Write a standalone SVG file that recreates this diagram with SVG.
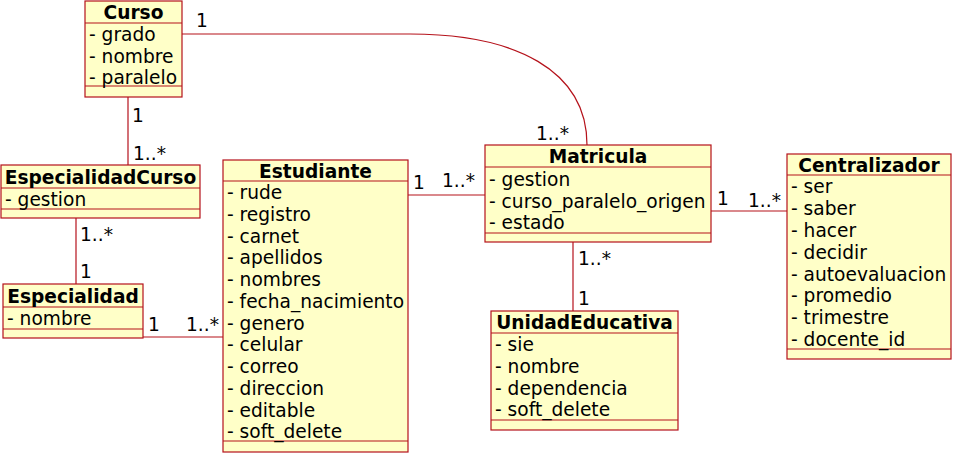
<svg xmlns="http://www.w3.org/2000/svg" width="954" height="453" viewBox="0 0 954 453">
<style>
.box{fill:#ffffc8;stroke:#b5121b;stroke-width:1.2}
.sep{stroke:#b5121b;stroke-width:1.2}
.con{fill:none;stroke:#b5121b;stroke-width:1.2}
text{font-family:"DejaVu Sans",sans-serif;font-size:18.6px;fill:#000}
.t{font-weight:bold;text-anchor:middle}
</style>
<rect width="954" height="453" fill="#fff"/>
<g id="connectors">
<path class="con" d="M182,34 L410,34 C515,34 587,70 587,145"/>
<line class="con" x1="128" y1="97" x2="128" y2="165"/>
<line class="con" x1="76" y1="218" x2="76" y2="284"/>
<line class="con" x1="143" y1="337" x2="223" y2="337"/>
<line class="con" x1="408" y1="195" x2="485" y2="195"/>
<line class="con" x1="573" y1="242" x2="573" y2="311"/>
<line class="con" x1="711" y1="211" x2="787" y2="211"/>
<text x="196" y="27">1</text>
<text x="536" y="140">1..*</text>
<text x="132" y="122">1</text>
<text x="133" y="160">1..*</text>
<text x="80" y="241">1..*</text>
<text x="80" y="278">1</text>
<text x="148" y="331">1</text>
<text x="186" y="331">1..*</text>
<text x="413" y="189">1</text>
<text x="442" y="187">1..*</text>
<text x="578" y="265">1..*</text>
<text x="578" y="305">1</text>
<text x="717" y="205">1</text>
<text x="748" y="207">1..*</text>
</g>
<g id="Curso">
<rect class="box" x="85" y="1" width="97" height="96"/>
<line class="sep" x1="85" y1="23" x2="182" y2="23"/>
<line class="sep" x1="85" y1="86" x2="182" y2="86"/>
<text class="t" x="133.5" y="19">Curso</text>
<text x="89" y="41">- grado</text>
<text x="89" y="63">- nombre</text>
<text x="89" y="84">- paralelo</text>
</g>
<g id="EspecialidadCurso">
<rect class="box" x="1" y="165" width="199" height="53"/>
<line class="sep" x1="1" y1="188" x2="200" y2="188"/>
<line class="sep" x1="1" y1="209" x2="200" y2="209"/>
<text class="t" x="100.5" y="184">EspecialidadCurso</text>
<text x="5" y="206">- gestion</text>
</g>
<g id="Especialidad">
<rect class="box" x="3" y="284" width="140" height="54"/>
<line class="sep" x1="3" y1="307" x2="143" y2="307"/>
<line class="sep" x1="3" y1="329" x2="143" y2="329"/>
<text class="t" x="73" y="303">Especialidad</text>
<text x="7" y="325">- nombre</text>
</g>
<g id="Estudiante">
<rect class="box" x="223" y="160" width="185" height="292"/>
<line class="sep" x1="223" y1="181" x2="408" y2="181"/>
<line class="sep" x1="223" y1="441" x2="408" y2="441"/>
<text class="t" x="315.5" y="178">Estudiante</text>
<text x="227" y="199">- rude</text>
<text x="227" y="221">- registro</text>
<text x="227" y="243">- carnet</text>
<text x="227" y="264">- apellidos</text>
<text x="227" y="286">- nombres</text>
<text x="227" y="308">- fecha_nacimiento</text>
<text x="227" y="330">- genero</text>
<text x="227" y="351">- celular</text>
<text x="227" y="373">- correo</text>
<text x="227" y="395">- direccion</text>
<text x="227" y="417">- editable</text>
<text x="227" y="438">- soft_delete</text>
</g>
<g id="Matricula">
<rect class="box" x="485" y="145" width="226" height="97"/>
<line class="sep" x1="485" y1="167" x2="711" y2="167"/>
<line class="sep" x1="485" y1="233" x2="711" y2="233"/>
<text class="t" x="598" y="163">Matricula</text>
<text x="489" y="186">- gestion</text>
<text x="489" y="208">- curso_paralelo_origen</text>
<text x="489" y="229">- estado</text>
</g>
<g id="UnidadEducativa">
<rect class="box" x="491" y="311" width="187" height="119"/>
<line class="sep" x1="491" y1="333" x2="678" y2="333"/>
<line class="sep" x1="491" y1="420" x2="678" y2="420"/>
<text class="t" x="584.5" y="329">UnidadEducativa</text>
<text x="495" y="351">- sie</text>
<text x="495" y="373">- nombre</text>
<text x="495" y="395">- dependencia</text>
<text x="495" y="416">- soft_delete</text>
</g>
<g id="Centralizador">
<rect class="box" x="787" y="154" width="164" height="205"/>
<line class="sep" x1="787" y1="175" x2="951" y2="175"/>
<line class="sep" x1="787" y1="349" x2="951" y2="349"/>
<text class="t" x="869" y="172">Centralizador</text>
<text x="791" y="193">- ser</text>
<text x="791" y="215">- saber</text>
<text x="791" y="237">- hacer</text>
<text x="791" y="259">- decidir</text>
<text x="791" y="281">- autoevaluacion</text>
<text x="791" y="302">- promedio</text>
<text x="791" y="324">- trimestre</text>
<text x="791" y="346">- docente_id</text>
</g>
</svg>
